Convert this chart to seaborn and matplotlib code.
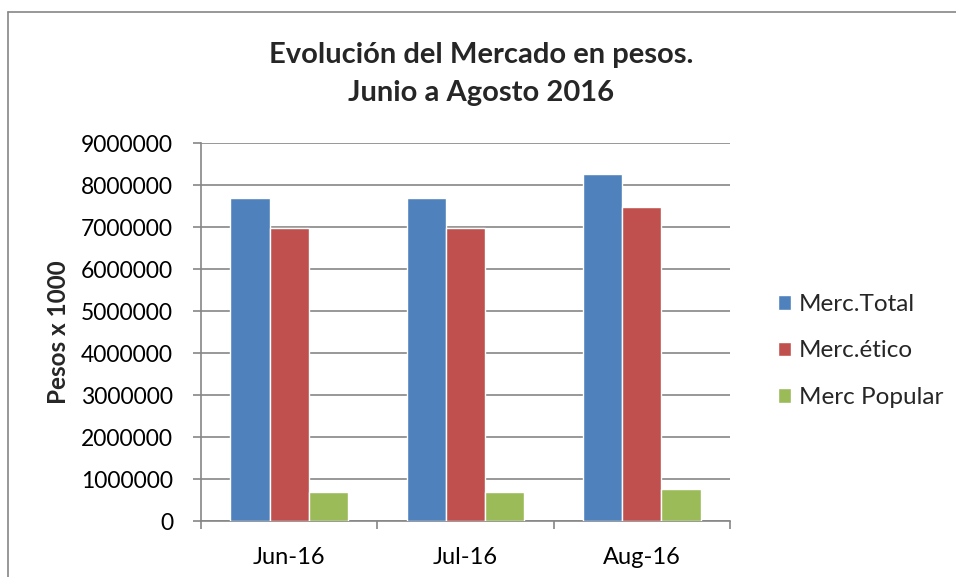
import matplotlib
matplotlib.use("Agg")
import matplotlib.pyplot as plt
import seaborn as sns
import pandas as pd
from matplotlib.lines import Line2D
from matplotlib.ticker import FixedLocator

months = ["Jun-16", "Jul-16", "Aug-16"]
series = ["Merc.Total", "Merc.ético", "Merc Popular"]
merc_total = [7680000, 7680000, 8270000]
merc_etico = [6980000, 6980000, 7470000]
merc_popular = [680000, 700000, 770000]
colors = ["#4F81BD", "#C0504D", "#9BBB59"]
title = "Evolución del Mercado en pesos.\nJunio a Agosto 2016"
ylabel = "Pesos x 1000"

rows = []
for s, vals in zip(series, [merc_total, merc_etico, merc_popular]):
    for m, v in zip(months, vals):
        rows.append({"Mes": m, "Serie": s, "Valor": v})
df = pd.DataFrame(rows)

sns.set_theme(style="white")
plt.rcParams["font.family"] = ["Lato", "DejaVu Sans"]

fig = plt.figure(figsize=(9.56, 5.77), dpi=100)
ax = fig.add_axes([201/956, 56/577, 529/956, 378/577])

sns.barplot(data=df, x="Mes", y="Valor", hue="Serie", order=months, hue_order=series,
            palette=colors, width=0.667, gap=0, edgecolor="white", linewidth=1,
            saturation=1, ax=ax, zorder=3)

grid_c = "#868686"
ax.set_ylim(0, 9000000)
ax.set_xlim(-0.5, 2.5)
ax.set_yticks(range(0, 9000001, 1000000))
ax.set_yticklabels([str(v) for v in range(0, 9000001, 1000000)], fontsize=16.5, color="#000000")
ax.yaxis.grid(True, color=grid_c, linewidth=1.2, zorder=0)
ax.set_axisbelow(True)
ax.tick_params(axis="y", which="major", length=6, width=1.2, color=grid_c, left=True, pad=14)
ax.tick_params(axis="x", which="major", length=0, labelsize=17, labelcolor="#000000", pad=19)
ax.xaxis.set_minor_locator(FixedLocator([-0.5, 0.5, 1.5, 2.5]))
ax.tick_params(axis="x", which="minor", length=6, width=1.2, color=grid_c, bottom=True)
for sp in ["top", "right"]:
    ax.spines[sp].set_visible(False)
for sp in ["left", "bottom"]:
    ax.spines[sp].set_color(grid_c)
    ax.spines[sp].set_linewidth(1.2)
ax.set_xlabel("")
ax.set_ylabel("")

fig.text(58/956, 1 - 332/577, ylabel, rotation=90, fontsize=17.5, fontweight="bold",
         ha="center", va="center")
fig.text(481/956, 1 - 74/577, title, fontsize=21, fontweight="bold",
         ha="center", va="center", linespacing=1.55)

handles, labels = ax.get_legend_handles_labels()
if ax.get_legend() is not None:
    ax.get_legend().remove()
fig.legend(handles, labels, loc="center left", bbox_to_anchor=(756/956, 1 - 351/577),
           frameon=False, fontsize=17.5, handlelength=0.55, handleheight=0.55,
           handletextpad=0.3, labelspacing=1.05)

# outer chart border (top and left)
fig.add_artist(Line2D([8/956, 8/956], [0, 1 - 12/577], transform=fig.transFigure,
                      color="#868686", linewidth=1.2))
fig.add_artist(Line2D([8/956, 1], [1 - 12/577, 1 - 12/577], transform=fig.transFigure,
                      color="#868686", linewidth=1.2))

fig.savefig("out.png", dpi=100)
